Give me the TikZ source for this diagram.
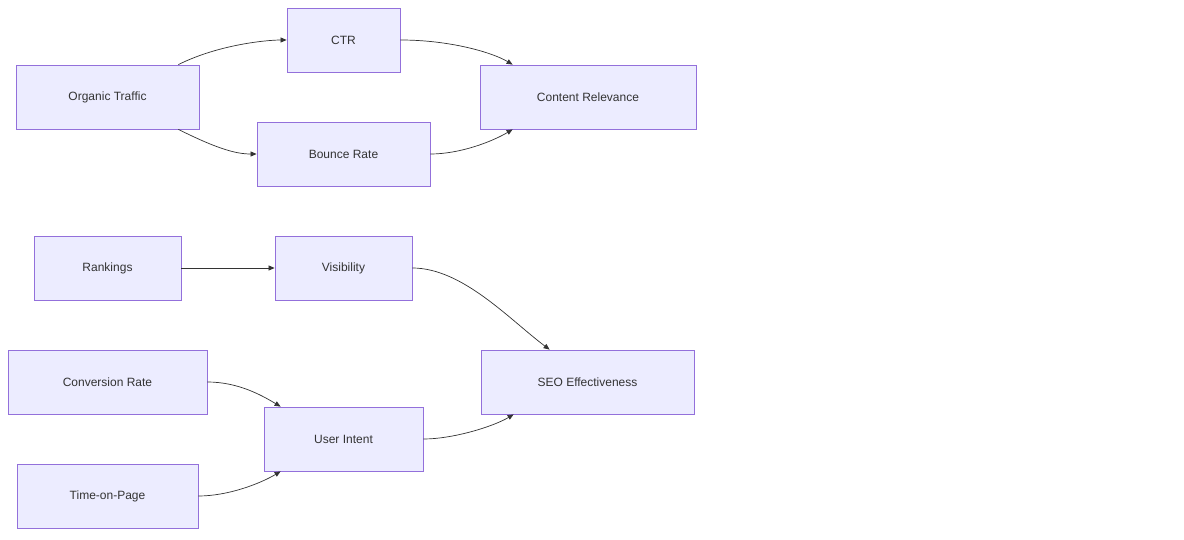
\documentclass[tikz,border=0pt]{standalone}
\usepackage{fontspec}
\setmainfont{Liberation Sans}
\usetikzlibrary{calc,arrows.meta}
\definecolor{nf}{HTML}{ECECFF}
\definecolor{ns}{HTML}{9370DB}
\definecolor{ln}{HTML}{333333}
\begin{document}
\begin{tikzpicture}[x=1pt,y=-1pt,
  box/.style={draw=ns,fill=nf,line width=0.8pt,inner sep=0pt,font=\fontsize{12}{14}\selectfont,text=ln},
  e/.style={draw=ln,line width=0.7pt,-{Triangle[length=6pt,width=5pt]}}]
\useasboundingbox (0,0) rectangle (1184,540);
\newcommand{\bx}[6]{\node[box,minimum width=#4-#2,minimum height=#5-#3] (#1) at ({(#2+#4)/2},{(#3+#5)/2}) {#6};}
\bx{ot}{16}{65}{199}{129}{Organic Traffic}
\bx{ctr}{287}{8}{400}{72}{CTR}
\bx{br}{257}{122}{430}{186}{Bounce Rate}
\bx{cr}{480}{65}{696}{129}{Content Relevance}
\bx{rk}{34}{236}{181}{300}{Rankings}
\bx{vis}{275}{236}{412}{300}{Visibility}
\bx{conv}{8}{350}{207}{414}{Conversion Rate}
\bx{seo}{481}{350}{694}{414}{SEO Effectiveness}
\bx{ui}{264}{407}{423}{471}{User Intent}
\bx{tp}{17}{464}{198}{528}{Time-on-Page}
\coordinate (a1) at ($(ot.north east)+(-21,0)$);
\draw[e] (a1) .. controls +(40,-20) and +(-20,0) .. (ctr.west);
\coordinate (a2) at ($(ot.south east)+(-21,0)$);
\draw[e] (a2) .. controls +(40,20) and +(-20,0) .. (br.west);
\coordinate (b1) at ($(cr.north west)+(33,0)$);
\draw[e] (ctr.east) .. controls +(50,0) and +(-20,-12) .. (b1);
\coordinate (b2) at ($(cr.south west)+(33,0)$);
\draw[e] (br.east) .. controls +(30,0) and +(-20,12) .. (b2);
\draw[e] (rk.east) -- (vis.west);
\coordinate (c1) at ($(seo.north west)+(69,0)$);
\draw[e] (vis.east) .. controls +(50,0) and +(-40,-30) .. (c1);
\coordinate (d1) at ($(ui.north west)+(17,0)$);
\draw[e] (conv.east) .. controls +(30,0) and +(-20,-12) .. (d1);
\coordinate (d2) at ($(ui.south west)+(17,0)$);
\draw[e] (tp.east) .. controls +(30,0) and +(-20,12) .. (d2);
\coordinate (d3) at ($(seo.south west)+(33,0)$);
\draw[e] (ui.east) .. controls +(30,0) and +(-20,12) .. (d3);
\end{tikzpicture}
\end{document}
